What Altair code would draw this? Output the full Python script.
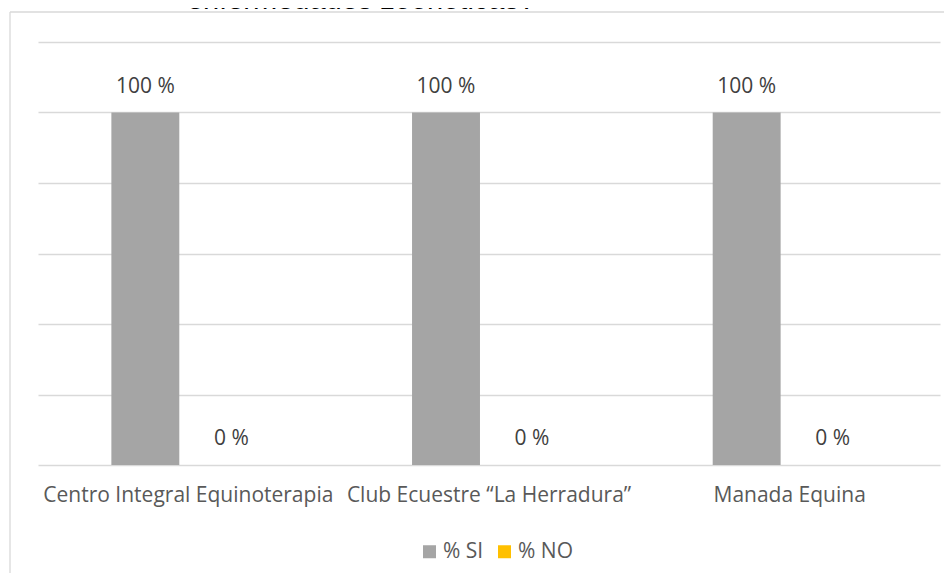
import altair as alt
import pandas as pd

categories = ["Centro Integral Equinoterapia", "Club Ecuestre \u201cLa Herradura\u201d", "Manada Equina"]
series = ["% SI", "% NO"]
si_values = [100, 100, 100]
no_values = [0, 0, 0]
title_text = "enfermedades zoon\u00f3ticas?"

rows = []
for c, s, n in zip(categories, si_values, no_values):
    rows.append({"cat": c, "serie": series[0], "value": s})
    rows.append({"cat": c, "serie": series[1], "value": n})
df = pd.DataFrame(rows)

FONT = "Open Sans"
FS = 21
W, H = 902, 423

x = alt.X("cat:N", sort=categories, title=None,
          scale=alt.Scale(paddingInner=0.428, paddingOuter=0.214),
          axis=alt.Axis(labelAngle=0, ticks=False, domain=False, labelPadding=19, labelLimit=0,
                        labelFont=FONT, labelFontSize=FS, labelColor="#595959"))
xo = alt.XOffset("serie:N", sort=series, scale=alt.Scale(paddingInner=0.21, paddingOuter=0.105))
y = alt.Y("value:Q", title=None, scale=alt.Scale(domain=[0, 120]),
          axis=alt.Axis(values=[0, 20, 40, 60, 80, 100, 120], labels=False, ticks=False,
                        domain=False, grid=True, gridColor="#D9D9D9", gridWidth=1.3))
color = alt.Color("serie:N", sort=series,
                  scale=alt.Scale(domain=series, range=["#A5A5A5", "#FFC000"]),
                  legend=alt.Legend(title=None, orient="none", legendX=381, legendY=499,
                                    direction="horizontal", symbolType="square",
                                    symbolSize=169, symbolStrokeWidth=0, symbolOpacity=1,
                                    labelFont=FONT, labelFontSize=FS, labelColor="#595959",
                                    columnPadding=10, labelOffset=3))

base = alt.Chart(df)
bars = base.mark_bar().encode(x=x, xOffset=xo, y=y, color=color)
labels = base.mark_text(dy=-26, baseline="middle", font=FONT, fontSize=FS, color="#404040").transform_calculate(
    lbl="datum.value + ' %'"
).encode(x=x, xOffset=xo, y=y, text="lbl:N")

frame_top = alt.Chart(pd.DataFrame({"t": [title_text]})).mark_rule(color="#D9D9D9", strokeWidth=1.3).encode(
    x=alt.value(-28), x2=alt.value(960), y=alt.value(-30))
frame_left = alt.Chart(pd.DataFrame({"t": [title_text]})).mark_rule(color="#D9D9D9", strokeWidth=1.3).encode(
    x=alt.value(-28), y=alt.value(-30), y2=alt.value(700))
title = alt.Chart(pd.DataFrame({"t": [title_text]})).mark_text(
    font="Liberation Sans", fontSize=29, color="#000000", baseline="alphabetic", align="center"
).encode(x=alt.value(323), y=alt.value(-33), text="t:N")

chart = alt.layer(frame_top, frame_left, bars, labels, title).properties(
    width=W, height=H,
    background="white",
    autosize=alt.AutoSizeParams(type="none"),
    padding={"left": 30, "top": 34, "right": 4, "bottom": 108},
).configure_view(stroke=None)

chart.save("out.html", embed_options={"renderer": "svg", "actions": False})
